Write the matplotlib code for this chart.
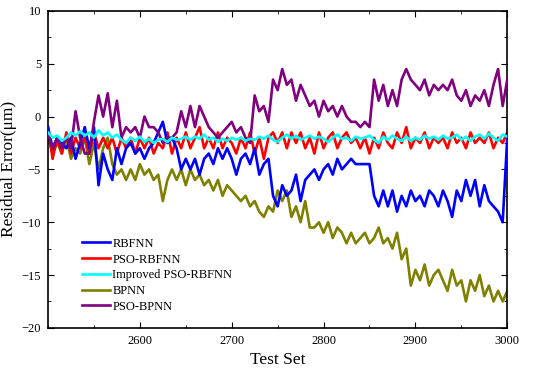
import numpy as np
import matplotlib.pyplot as plt
from matplotlib.ticker import MultipleLocator

plt.rcParams['font.family'] = ['Liberation Serif', 'DejaVu Serif']
plt.rcParams['axes.unicode_minus'] = True

# test set index, sampled every 5 points
test_set = np.arange(2500, 3001, 5)

rbfnn = [-1, -3, -2, -2.5, -3, -2, -4, -2.5, -1, -3,
         -1, -6.5, -3.5, -5, -6, -3, -4.5, -3, -2.5, -3.5,
         -3, -4, -3, -2.5, -1.5, -0.5, -2.5, -2, -3, -5,
         -4, -5, -4, -5.5, -4, -3.5, -4.5, -3, -4, -3,
         -4, -5.5, -4, -3.5, -4.5, -3, -5.5, -4.5, -4, -7.5,
         -8.5, -6.5, -7.5, -7, -5.5, -8, -6, -5.5, -5, -6,
         -5, -4.5, -5.5, -4, -5, -4.5, -4, -4.5, -4.5, -4.5,
         -4.5, -7.5, -8.5, -7, -8.5, -7, -9, -7.5, -8.5, -7,
         -8, -7.5, -8.5, -7, -7.5, -8.5, -7, -8, -9.5, -7,
         -8, -6, -7.5, -6, -8.5, -6.5, -8, -8.5, -9, -10, -2]

pso_rbfnn = [-1, -4, -2, -3.5, -1.5, -3.5, -2, -3, -2, -3.5,
             -1.5, -3, -2, -3, -2, -3.5, -2, -3, -2, -3.5,
             -2, -3, -2, -3.5, -2.5, -3, -1.5, -3.5, -2, -3,
             -1.5, -3, -2, -1, -3, -2, -3, -1.5, -3, -2,
             -2.5, -3.5, -2, -3, -1.5, -3.5, -2, -4, -2, -1.5,
             -2.5, -1.5, -3, -1.5, -2.5, -1.5, -3, -2, -3.5, -1.5,
             -3, -2, -1.5, -3, -2, -1.5, -2.5, -2, -3, -2,
             -3.5, -2, -3, -1.5, -2.5, -3, -1.5, -2.5, -1, -3,
             -2, -2.5, -1.5, -3, -2, -2.5, -2, -3, -1.5, -2.5,
             -2, -3, -1.5, -2.5, -2, -2.5, -1.5, -3, -2, -2.5, -1.5]

improved_pso_rbfnn = [-1.5, -2, -1.8, -2.3, -2, -1.5, -1.8, -1.4, -1.8, -1.5,
                      -2, -1.3, -1.8, -1.5, -2, -1.7, -2.2, -2.5, -2, -2.3,
                      -1.9, -2.4, -2.1, -2.5, -2.2, -2.1, -2.4, -2, -2.2, -2.1,
                      -1.9, -2.2, -1.9, -2.1, -1.7, -2.2, -2, -2.4, -2.1, -2.3,
                      -2, -2.2, -2, -2.3, -2.1, -2.2, -1.9, -2.1, -1.8, -2.2,
                      -2.4, -2, -1.7, -2.1, -1.8, -2.2, -2, -1.8, -2.1, -1.9,
                      -2.1, -2.4, -2, -1.7, -2.1, -2, -2.3, -1.9, -2.1, -2,
                      -1.8, -2.2, -2.5, -1.9, -2.2, -1.8, -2.1, -2.3, -1.9, -2.3,
                      -2, -2.2, -1.8, -2.1, -1.9, -2.2, -1.8, -2.1, -2, -1.7,
                      -2.2, -1.9, -2.3, -1.9, -1.7, -2.1, -1.6, -2, -2.3, -1.7, -1.9]

bpnn = [-2, -3.5, -2.5, -3.5, -2, -4, -3, -3.5, -2, -4.5,
        -2.5, -5, -3, -2, -4.5, -5.5, -5, -6, -5, -6,
        -4.5, -5.5, -5, -6, -5.5, -8, -6, -5, -6, -5,
        -6.5, -5, -6, -5.5, -6.5, -6, -7, -6, -7.5, -6.5,
        -7, -7.5, -8, -7.5, -8.5, -8, -9, -9.5, -8.5, -9,
        -7, -8, -7, -9.5, -8.5, -10, -8, -10.5, -10.5, -10,
        -11, -10, -11.5, -10.5, -11, -12, -11, -12, -11.5, -11,
        -12, -11.5, -10.5, -12, -11.5, -12.5, -11, -13.5, -12.5, -16,
        -14.5, -15.5, -14, -16, -15, -14.5, -15.5, -16.5, -14.5, -16,
        -15.5, -17.5, -15.5, -16.5, -15, -17, -16, -17.5, -16.5, -17.5, -16.5]

pso_bpnn = [-1.5, -3, -2, -3, -2, -3, 0.5, -2, -3.5, -3.5,
            -0.5, 2, 0, 2.2, -1, 1.5, -2, -1, -1.5, -1,
            -2, 0, -1, -1, -1.5, -2.5, -2, -2, -1.5, 0.5,
            -1, 1, -1, 1, 0, -1, -1.5, -2, -1.5, -1,
            -0.5, -1.5, -1, -2, -2.5, 2, 0.5, 1, -0.5, 3.5,
            2.5, 4.5, 3, 3.5, 1.5, 3, 2, 1, 1.5, 0,
            1.5, 0.5, 1, 0, 1, 0, -0.5, -0.5, -1, -0.5,
            -1, 3.5, 1.5, 3, 1, 2.5, 1, 3.5, 4.5, 3.5,
            3, 2.5, 3.5, 2, 3, 2.5, 3, 2.5, 3.5, 2,
            1.5, 2.5, 1, 2, 1.5, 2.5, 1, 3, 4.5, 1, 3.5]

fig = plt.figure(figsize=(5.5, 3.76), dpi=100)
ax = fig.add_axes([0.0873, 0.128, 0.835, 0.843])

lw = 1.9
ax.plot(test_set, rbfnn, color='#0000ff', lw=lw, label='RBFNN', zorder=3)
ax.plot(test_set, pso_rbfnn, color='#ff0000', lw=lw, label='PSO-RBFNN', zorder=2)
ax.plot(test_set, improved_pso_rbfnn, color='#00ffff', lw=lw, label='Improved PSO-RBFNN', zorder=5)
ax.plot(test_set, bpnn, color='#808000', lw=lw, label='BPNN', zorder=1)
ax.plot(test_set, pso_bpnn, color='#800080', lw=lw, label='PSO-BPNN', zorder=4)

ax.set_xlim(2500, 3000)
ax.set_ylim(-20, 10)
ax.set_xticks([2600, 2700, 2800, 2900, 3000])
ax.xaxis.set_minor_locator(MultipleLocator(50))
ax.yaxis.set_major_locator(MultipleLocator(5))
ax.yaxis.set_minor_locator(MultipleLocator(2.5))
ax.tick_params(which='both', direction='in', top=True, right=True, labelsize=9)
ax.tick_params(which='major', length=4, pad=5)
ax.tick_params(which='minor', length=2.5)
for s in ax.spines.values():
    s.set_linewidth(1.2)

ax.set_xlabel('Test Set', fontsize=12.5, labelpad=4)
ax.set_ylabel('Residual Error(μm)', fontsize=12.5, labelpad=3)

ax.legend(loc='lower left', bbox_to_anchor=(0.05, 0.012), frameon=False,
          fontsize=9, handlelength=2.25, handletextpad=0.15, labelspacing=0.3)

fig.savefig('out.png', dpi=100)
